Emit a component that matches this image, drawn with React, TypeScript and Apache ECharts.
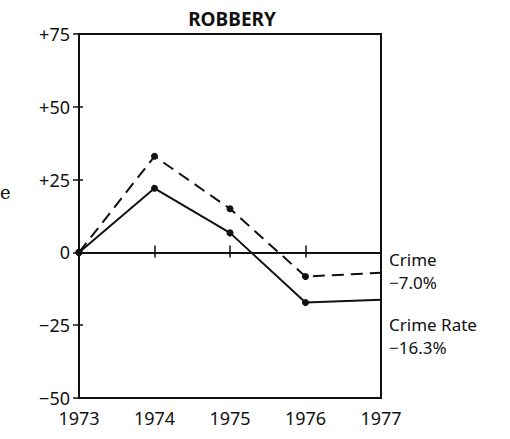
import React, { useEffect, useRef } from "react";
import * as echarts from "echarts";

const years = [1973, 1974, 1975, 1976, 1977];
const crime = [0, 33, 15, -8.3, -7.0];
const crimeRate = [0, 22, 6.7, -17.2, -16.3];
const yTicks = [-50, -25, 0, 25, 50, 75];
const yTickLabels = ["\u221250", "\u221225", "0", "+25", "+50", "+75"];
const title = "ROBBERY";
const endLabels = [
  { name: "Crime", value: "\u22127.0%" },
  { name: "Crime Rate", value: "\u221216.3%" },
];

const FONT = "'Noto Sans', sans-serif";
const INK = "#111";

export default function App() {
  const ref = useRef<HTMLDivElement>(null);
  useEffect(() => {
    if (!ref.current) return;
    const chart = echarts.init(ref.current, undefined, { renderer: "svg" });
    const mkData = (vals: number[]) =>
      vals.map((v, i) => ({
        value: [years[i], v],
        symbol: i === vals.length - 1 ? "none" : "circle",
      }));
    const yLabel = (v: number) => {
      const idx = yTicks.indexOf(v);
      return idx >= 0 ? yTickLabels[idx] : "";
    };
    const baseX = {
      type: "value" as const,
      min: years[0],
      max: years[years.length - 1],
      interval: 1,
      splitLine: { show: false },
      axisLine: { show: true, lineStyle: { color: INK, width: 2 } },
    };
    const baseY = {
      type: "value" as const,
      min: -50,
      max: 75,
      interval: 25,
      splitLine: { show: false },
      axisLine: { show: true, onZero: false, lineStyle: { color: INK, width: 2 } },
    };
    chart.setOption({
      animation: false,
      backgroundColor: "#fff",
      title: {
        text: title,
        left: 227,
        textAlign: "center",
        top: 4,
        textStyle: { fontFamily: FONT, fontSize: 19, fontWeight: "bold", color: INK },
      },
      grid: {
        left: 79,
        top: 34,
        width: 302,
        height: 364,
        show: true,
        borderColor: INK,
        borderWidth: 2,
        backgroundColor: "transparent",
      },
      xAxis: [
        {
          ...baseX,
          position: "bottom",
          axisTick: { show: true, inside: false, length: 5, lineStyle: { color: INK, width: 1.5 } },
          axisLabel: {
            formatter: (v: number) => String(v),
            fontFamily: FONT,
            fontSize: 18,
            color: INK,
            margin: 11,
          },
        },
        {
          ...baseX,
          position: "bottom",
          axisTick: { show: true, inside: true, length: 7, lineStyle: { color: INK, width: 1.5 } },
          axisLabel: { show: false },
        },
      ],
      yAxis: [
        {
          ...baseY,
          position: "left",
          axisTick: { show: true, inside: false, length: 6, lineStyle: { color: INK, width: 1.5 } },
          axisLabel: {
            formatter: yLabel,
            fontFamily: FONT,
            fontSize: 18,
            color: INK,
            margin: 9,
          },
        },
        {
          ...baseY,
          position: "left",
          axisTick: { show: true, inside: true, length: 4, lineStyle: { color: INK, width: 1.5 } },
          axisLabel: { show: false },
        },
      ],
      series: [
        {
          name: "Crime",
          type: "line",
          data: mkData(crime),
          symbolSize: 7,
          itemStyle: { color: INK },
          lineStyle: { color: INK, width: 2, type: [12, 7] },
          markLine: {
            silent: true,
            symbol: "none",
            label: { show: false },
            lineStyle: { color: INK, width: 2, type: "solid" },
            data: [{ yAxis: 0 }],
          },
        },
        {
          name: "Crime Rate",
          type: "line",
          data: mkData(crimeRate),
          symbolSize: 7,
          itemStyle: { color: INK },
          lineStyle: { color: INK, width: 2, type: "solid" },
        },
      ],
      graphic: [
        {
          type: "text",
          left: 0,
          top: 183,
          style: { text: "e", font: "18px 'DejaVu Serif', serif", fill: INK },
        },
        {
          type: "text",
          left: 389,
          top: 248,
          style: {
            text: endLabels[0].name + "\n" + endLabels[0].value,
            font: `17px ${FONT}`,
            lineHeight: 23,
            fill: INK,
          },
        },
        {
          type: "text",
          left: 389,
          top: 313,
          style: {
            text: endLabels[1].name + "\n" + endLabels[1].value,
            font: `17px ${FONT}`,
            lineHeight: 23,
            fill: INK,
          },
        },
      ],
    });
    return () => chart.dispose();
  }, []);
  return (
    <div
      ref={ref}
      style={{ position: "fixed", left: 0, top: 0, width: 510, height: 439 }}
    />
  );
}
